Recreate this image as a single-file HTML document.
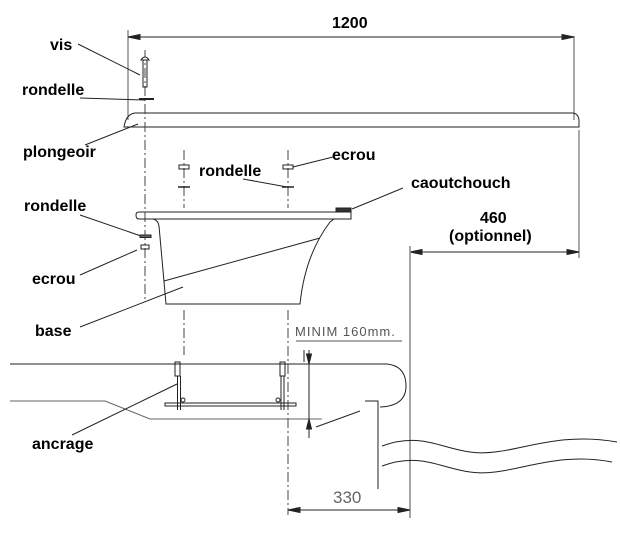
<!DOCTYPE html>
<html><head><meta charset="utf-8"><style>
html,body{margin:0;padding:0;background:#fff}
svg{display:block}
.b{font-family:"Liberation Sans",sans-serif;font-weight:bold;font-size:16px;fill:#000}
.t{font-family:"Liberation Sans",sans-serif;font-size:13px;fill:#555;letter-spacing:1px}
</style></head><body>
<svg width="620" height="535" viewBox="0 0 620 535" xmlns="http://www.w3.org/2000/svg" fill="none" stroke="#222" stroke-width="1">
<!-- 1200 dimension -->
<text class="b" x="332" y="28" stroke="none">1200</text>
<line x1="128" y1="30" x2="128" y2="120" stroke="#555"/>
<line x1="574" y1="36" x2="574" y2="120" stroke="#555"/>
<line x1="128" y1="37" x2="574" y2="37"/>
<path d="M128 37 l12 -2.5 v5 z M574 37 l-12 -2.5 v5 z" fill="#222"/>
<!-- plank -->
<path d="M135 113 H572 Q578 113 579 120 L579 127 H124 Q126 114 135 113 Z"/>
<!-- centerline -->
<line x1="145" y1="50" x2="145" y2="300" stroke-dasharray="10,3,2,3" stroke="#444"/>
<!-- vis -->
<rect x="143" y="59" width="4" height="28"/>
<path d="M141 60 Q145 54 149 60 Z" fill="#fff"/>
<line x1="139" y1="99" x2="154" y2="99" stroke-width="2"/>
<!-- labels left -->
<text class="b" x="50" y="50" stroke="none">vis</text>
<line x1="78" y1="44" x2="140" y2="75"/>
<text class="b" x="22" y="95" stroke="none">rondelle</text>
<line x1="80" y1="98" x2="145" y2="100"/>
<text class="b" x="23" y="157" stroke="none">plongeoir</text>
<line x1="85" y1="145" x2="138" y2="124"/>
<!-- small bolts top -->
<line x1="184" y1="150" x2="184" y2="208" stroke-dasharray="10,3,2,3" stroke="#444"/>
<line x1="288" y1="150" x2="288" y2="208" stroke-dasharray="10,3,2,3" stroke="#444"/>
<rect x="179" y="165" width="10" height="4"/><rect x="283" y="165" width="10" height="4"/>
<line x1="178" y1="187" x2="190" y2="187" stroke-width="1.5"/><line x1="282" y1="187" x2="294" y2="187" stroke-width="1.5"/>
<text class="b" x="199" y="176" stroke="none">rondelle</text>
<line x1="243" y1="179" x2="287" y2="187"/>
<text class="b" x="332" y="160" stroke="none">ecrou</text>
<line x1="333" y1="157" x2="293" y2="167"/>
<text class="b" x="411" y="188" stroke="none">caoutchouch</text>
<line x1="403" y1="188" x2="352" y2="209"/>
<rect x="336" y="208" width="15" height="4" fill="#333"/>
<!-- base -->
<path d="M139 212 H351 V219 H139 Q136 219 136 215 Q136 212 139 212 Z"/>
<path d="M153 219 Q158 220 159 226 L166 304 H300 Q305 255 330 222 L334 219"/>
<line x1="164" y1="281" x2="320" y2="238"/>
<text class="b" x="24" y="211" stroke="none">rondelle</text>
<line x1="80" y1="215" x2="141" y2="236"/>
<rect x="140" y="235" width="11" height="2.5" fill="#666"/>
<rect x="141" y="245" width="8" height="4"/>
<text class="b" x="32" y="284" stroke="none">ecrou</text>
<line x1="80" y1="275" x2="137" y2="250"/>
<!-- 460 -->
<text class="b" x="480" y="223" stroke="none">460</text>
<text class="b" x="449" y="241" stroke="none">(optionnel)</text>
<line x1="579" y1="130" x2="579" y2="258" stroke="#555"/>
<line x1="410" y1="252" x2="579" y2="252"/>
<path d="M410 252 l12 -2.5 v5 z M579 252 l-12 -2.5 v5 z" fill="#222"/>
<line x1="410" y1="246" x2="410" y2="518" stroke="#888" stroke-width="1.5"/>
<!-- base label -->
<text class="b" x="35" y="336" stroke="none">base</text>
<line x1="80" y1="327" x2="183" y2="287"/>
<!-- lower centerlines -->
<line x1="184" y1="310" x2="184" y2="355" stroke-dasharray="10,3,2,3" stroke="#444"/>
<line x1="288" y1="310" x2="288" y2="515" stroke-dasharray="10,3,2,3" stroke="#444"/>
<!-- MINIM -->
<text class="t" x="295" y="336" stroke="none">MINIM 160mm.</text>
<line x1="296" y1="341" x2="402" y2="341" stroke="#555"/>
<!-- deck -->
<path d="M10 364 H387 Q406 366 406 386 Q406 406 380 407"/>
<path d="M10 401 H105 L150 419 H322" stroke="#666"/>
<path d="M365 401 H378 V489"/>
<!-- anchors -->
<rect x="175" y="362" width="5" height="14"/><line x1="177.5" y1="376" x2="177.5" y2="410"/><line x1="180.5" y1="376" x2="180.5" y2="410"/>
<rect x="280" y="362" width="5" height="14"/><line x1="281" y1="376" x2="281" y2="410"/><line x1="284" y1="376" x2="284" y2="410"/>
<rect x="165" y="403" width="131" height="3"/>
<circle cx="183" cy="400" r="2"/><circle cx="278" cy="400" r="2"/>
<text class="b" x="32" y="449" stroke="none">ancrage</text>
<line x1="72" y1="435" x2="177" y2="384"/>
<!-- vertical dim -->
<line x1="309" y1="350" x2="309" y2="438"/>
<line x1="304" y1="350" x2="304" y2="362"/>
<path d="M309 364 l-2.5 -10 h5 z M309 419 l-2.5 10 h5 z" fill="#222"/>
<line x1="316" y1="427" x2="360" y2="411"/>
<!-- waves -->
<path d="M382 446 C420 432 440 448 470 452 C510 458 550 430 617 442"/>
<path d="M382 466 C420 452 440 468 470 472 C510 478 550 450 612 462"/>
<!-- 330 -->
<text x="333" y="503" font-family="Liberation Sans,sans-serif" font-size="17" fill="#666" stroke="none">330</text>
<line x1="288" y1="510" x2="410" y2="510"/>
<path d="M288 510 l12 -2.5 v5 z M410 510 l-12 -2.5 v5 z" fill="#222"/>
</svg>
</body></html>
